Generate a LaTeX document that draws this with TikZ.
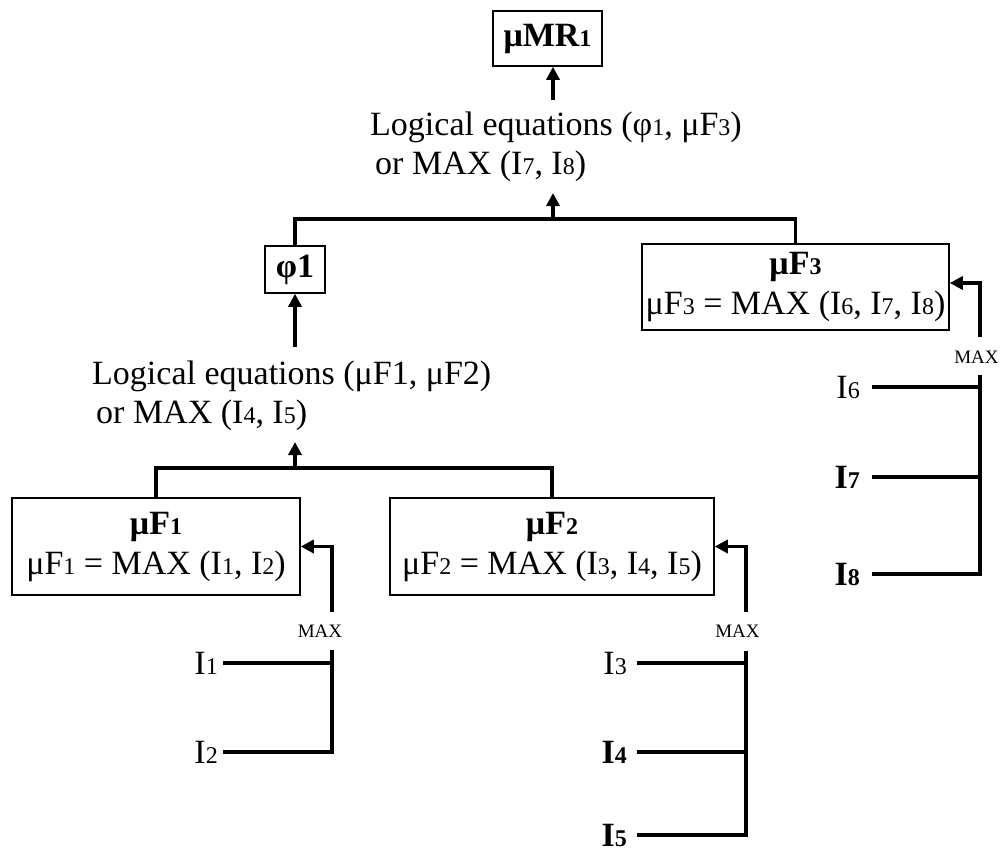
\documentclass[tikz,border=0pt]{standalone}
\usepackage{fontspec}
\setmainfont{Liberation Serif}
\usetikzlibrary{arrows.meta}
\newcommand\sd[1]{{\fontsize{24}{24}\selectfont #1}}
\begin{document}
\begin{tikzpicture}[x=1pt,y=-1pt,
  box/.style={draw, line width=1.5pt, inner sep=0pt, align=center, font=\fontsize{34}{39}\selectfont},
  txt/.style={inner sep=0pt, align=left, anchor=north west, font=\fontsize{34}{39}\selectfont},
  conn/.style={line width=3.2pt},
  arr/.style={line width=3.2pt, -{Triangle[length=13pt,width=13pt]}},
  inlbl/.style={inner ysep=0pt, anchor=east, font=\fontsize{34}{39}\selectfont},
  maxlbl/.style={inner sep=0pt, font=\fontsize{19}{19}\selectfont}]
\path[use as bounding box] (0,0) rectangle (1002,852);

% boxes
\node[box, minimum width=109pt, minimum height=55pt] (MR) at (547.5,38.5) {\textbf{μMR\sd{1}}};
\node[box, minimum width=60pt, minimum height=47pt] (phi) at (295,269.5) {\textbf{φ1}};
\node[box, minimum width=307pt, minimum height=86pt] (F3) at (795.5,287) {\textbf{μF\sd{3}}\\[1pt]μF\sd{3} = MAX (I\sd{6}, I\sd{7}, I\sd{8})};
\node[box, minimum width=288pt, minimum height=97pt] (F1) at (156,546.5) {\textbf{μF\sd{1}}\\[1pt]μF\sd{1} = MAX (I\sd{1}, I\sd{2})};
\node[box, minimum width=324pt, minimum height=97pt] (F2) at (552,546.5) {\textbf{μF\sd{2}}\\[1pt]μF\sd{2} = MAX (I\sd{3}, I\sd{4}, I\sd{5})};

% texts
\node[txt] (top) at (370,112) {Logical equations (φ\sd{1}, μF\sd{3})\\\hspace*{5pt}or MAX (I\sd{7}, I\sd{8})};
\node[txt] (mid) at (92,361) {Logical equations (μF1, μF2)\\\hspace*{4pt}or MAX (I\sd{4}, I\sd{5})};

% MAX labels
\node[maxlbl] (max1) at (320,631) {MAX};
\node[maxlbl] (max2) at (737.5,631) {MAX};
\node[maxlbl] (max3) at (976.5,357) {MAX};

% input labels
\node[inlbl, inner xsep=5pt] (I1) at (223,663) {I\sd{1}};
\node[inlbl, inner xsep=5pt] (I2) at (223,752) {I\sd{2}};
\node[inlbl, inner xsep=10pt] (I3) at (637,663) {I\sd{3}};
\node[inlbl, inner xsep=10pt] (I4) at (637,752) {\textbf{I\sd{4}}};
\node[inlbl, inner xsep=10pt] (I5) at (637,835) {\textbf{I\sd{5}}};
\node[inlbl, inner xsep=12pt] (I6) at (872,387) {I\sd{6}};
\node[inlbl, inner xsep=12pt] (I7) at (872,477) {\textbf{I\sd{7}}};
\node[inlbl, inner xsep=12pt] (I8) at (872,574) {\textbf{I\sd{8}}};

% coordinates
\coordinate (mrtail) at (553,100);
\coordinate (jtop) at (553,219);
\coordinate (ttip) at (553,193);
\coordinate (ptail) at (295,347);
\coordinate (jmid) at (295,468);
\coordinate (mtip) at (295,442);
\coordinate (c1) at (332,612);
\coordinate (d1) at (332,650);
\coordinate (c2) at (746,612);
\coordinate (d2) at (746,651);
\coordinate (c3) at (980,337);
\coordinate (a3) at (980,283);
\coordinate (d3) at (980,375);

% connectors
\draw[arr] (mrtail) -- (mrtail |- MR.south);
\draw[conn] (phi.north) |- (jtop) -| (F3.north);
\draw[arr] (jtop) -- (ttip);
\draw[arr] (ptail) -- (phi.south);
\draw[conn] (F1.north) |- (jmid) -| (F2.north);
\draw[arr] (jmid) -- (mtip);

\draw[arr] (c1) |- (F1.east);
\draw[conn] (I1.east) -- (I1.east -| d1);
\draw[conn] (d1) |- (I2.east);

\draw[arr] (c2) |- (F2.east);
\draw[conn] (I3.east) -- (I3.east -| d2);
\draw[conn] (I4.east) -- (I4.east -| d2);
\draw[conn] (d2) |- (I5.east);

\draw[arr] (c3) -- (a3) -- (a3 -| F3.east);
\draw[conn] (I6.east) -- (I6.east -| d3);
\draw[conn] (I7.east) -- (I7.east -| d3);
\draw[conn] (d3) |- (I8.east);
\end{tikzpicture}
\end{document}
